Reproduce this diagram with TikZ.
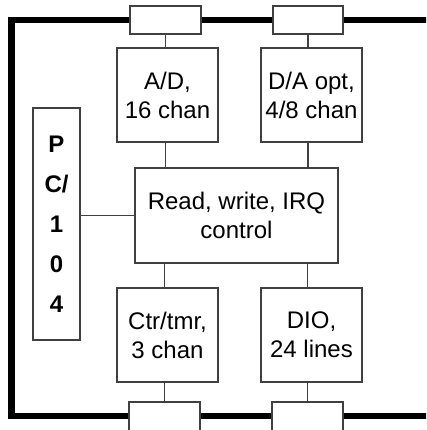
\documentclass[tikz,border=0pt]{standalone}
\usepackage{fontspec}
\setmainfont{Liberation Sans}
\definecolor{boxline}{RGB}{64,64,64}
\begin{document}
\begin{tikzpicture}[x=1pt,y=-1pt,
  blk/.style={draw=boxline,line width=1.5pt,fill=white,inner sep=0pt,align=center,
    font=\fontsize{24}{29}\selectfont},
  conn/.style={draw=boxline,line width=1.5pt,fill=white,inner sep=0pt},
  wire/.style={draw=boxline,line width=1.5pt},
  bus/.style={draw=black,line width=6.5pt,line join=miter}]
\clip (0,0) rectangle (426,430);
\fill[white] (0,0) rectangle (426,430);
% bus
\coordinate (bt) at (430,20);
\coordinate (bb) at (430,416);
\draw[bus] (bt) -- (11.5,20) -- (11.5,416) -- (bb);
% connector boxes on the bus
\node[conn,minimum width=71pt,minimum height=28pt] (top1) at (165.5,20) {};
\node[conn,minimum width=70pt,minimum height=28pt] (top2) at (308,20) {};
\node[conn,minimum width=71pt,minimum height=30pt] (bot1) at (164.5,417) {};
\node[conn,minimum width=71pt,minimum height=30pt] (bot2) at (307.5,417) {};
% function blocks
\node[blk,minimum width=101pt,minimum height=94pt] (ad) at (167.5,95) {A/D,\\16 chan};
\node[blk,minimum width=101pt,minimum height=94pt] (da) at (311.5,95) {D/A opt,\\4/8 chan};
\node[blk,minimum width=203pt,minimum height=95pt] (rw) at (236.5,215.5) {Read, write, IRQ\\control};
\node[blk,minimum width=101pt,minimum height=94pt] (ct) at (167.5,335) {Ctr/tmr,\\3 chan};
\node[blk,minimum width=101pt,minimum height=94pt] (dio) at (311.5,335) {DIO,\\24 lines};
\node[blk,minimum width=47pt,minimum height=232pt,font=\bfseries\fontsize{24}{40}\selectfont] (pc) at (56.5,224) {P\\C/\\1\\0\\4};
% wires
\draw[wire] (top1.south) -- (top1.south |- ad.north);
\draw[wire] (ad.south -| top1) -- (rw.north -| top1);
\draw[wire] (top2.south) -- (top2.south |- da.north);
\draw[wire] (da.south -| top2) -- (rw.north -| top2);
\draw[wire] (rw.south -| bot1) -- (ct.north -| bot1);
\draw[wire] (ct.south -| bot1) -- (bot1.north);
\draw[wire] (rw.south -| bot2) -- (dio.north -| bot2);
\draw[wire] (dio.south -| bot2) -- (bot2.north);
\draw[wire] (pc.east |- rw.west) -- (rw.west);
\end{tikzpicture}
\end{document}
